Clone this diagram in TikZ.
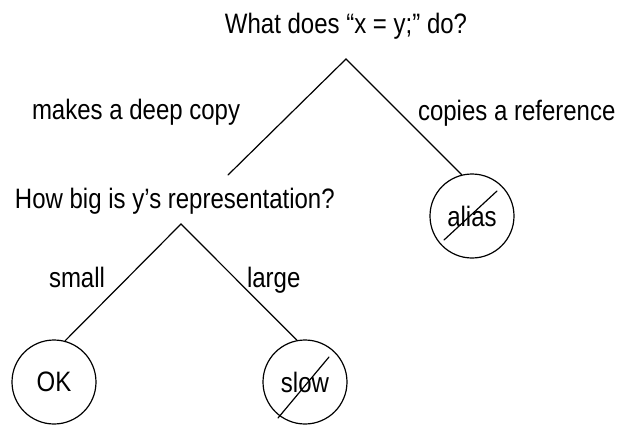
\documentclass[tikz,border=0pt]{standalone}
\usepackage{fontspec}
\setmainfont{Liberation Sans}
\usetikzlibrary{calc}
\newcommand{\tallt}[1]{\scalebox{1}[1.17]{#1}}
\begin{document}
\begin{tikzpicture}[x=1pt,y=-1pt,
  txt/.style={inner sep=0pt,outer sep=0pt,font=\fontsize{24}{28}\selectfont},
  leaf/.style={draw,circle,minimum size=84pt,inner sep=0pt,line width=1.2pt,font=\fontsize{24}{28}\selectfont},
  edge/.style={line width=1.2pt,line cap=round}]
\useasboundingbox (0,0) rectangle (641,424);
% question nodes
\node[txt,anchor=base] (q1) at (346,33) {\tallt{What does “x = y;” do?}};
\node[txt,anchor=base west] (q2) at (15,208) {\tallt{How big is y’s representation?}};
% edge labels
\node[txt,anchor=base west] (l1) at (32,119) {\tallt{makes a deep copy}};
\node[txt,anchor=base west] (l2) at (418,120) {\tallt{copies a reference}};
\node[txt,anchor=base west] (l3) at (49,287) {\tallt{small}};
\node[txt,anchor=base west] (l4) at (247,287) {\tallt{large}};
% leaves
\node[leaf] (alias) at (472,216) {\tallt{alias}};
\node[leaf] (ok) at (54,382) {\tallt{OK}};
\node[leaf] (slow) at (305,382) {\tallt{slow}};
% branch points
\coordinate (a1) at (346,59);
\coordinate (e1) at (228,175);
\coordinate (a2) at (181,224);
% connectors
\draw[edge] (e1) -- (a1) -- (alias.104);
\draw[edge] (ok.75) -- (a2) -- (slow.101);
% slashes
\draw[edge] ($(alias.center)+(-28,24)$) -- ($(alias.center)+(25,-25)$);
\draw[edge] ($(slow.center)+(-27,36)$) -- ($(slow.center)+(24,-25)$);
\end{tikzpicture}
\end{document}
